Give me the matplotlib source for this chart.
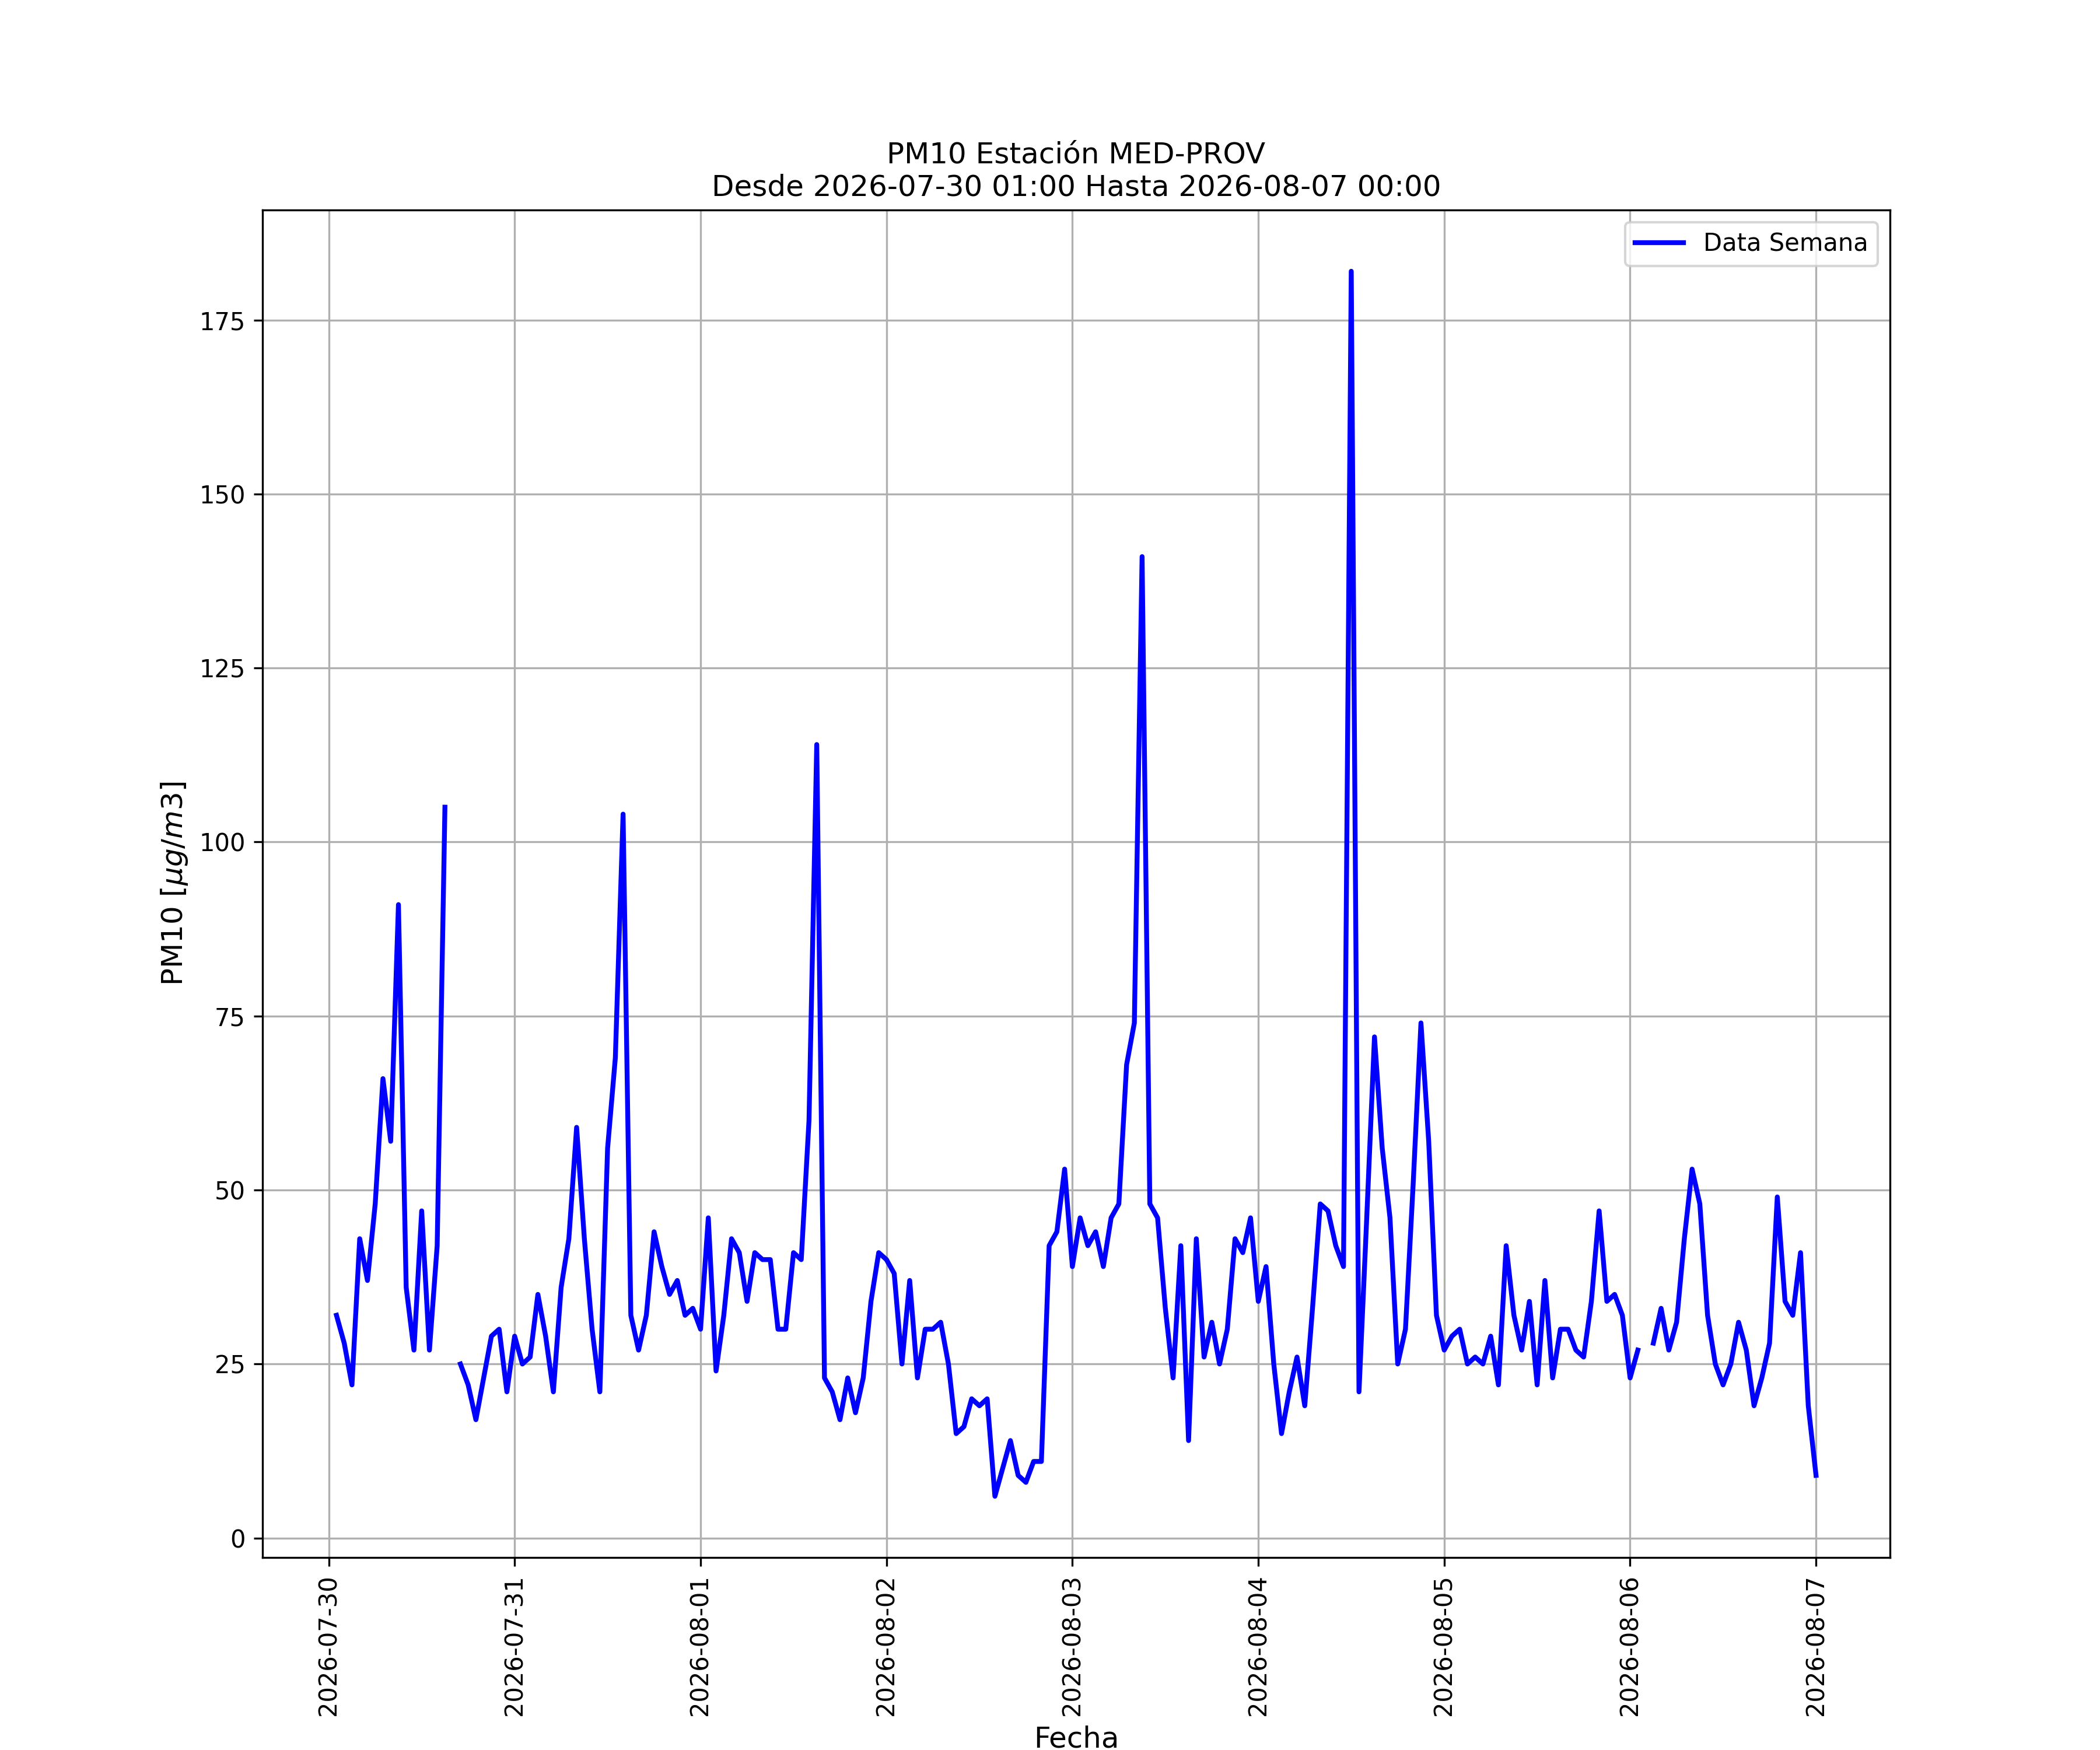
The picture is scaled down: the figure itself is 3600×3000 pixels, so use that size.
import numpy as np
import pandas as pd
import matplotlib
matplotlib.use("Agg")
import matplotlib.pyplot as plt
import matplotlib.dates as mdates

nan = np.nan

# hourly PM10, 2026-07-30 01:00 .. 2026-08-07 00:00
day_0730 = [32, 28, 22, 43, 37, 48, 66, 57, 91, 36, 27, 47, 27, 42, 105, nan,
            25, 22, 17, 23, 29, 30, 21]
day_0731 = [29, 25, 26, 35, 29, 21, 36, 43, 59, 43, 30, 21, 56, 69, 104, 32,
            27, 32, 44, 39, 35, 37, 32, 33]
day_0801 = [30, 46, 24, 32, 43, 41, 34, 41, 40, 40, 30, 30, 41, 40, 60, 114,
            23, 21, 17, 23, 18, 23, 34, 41]
day_0802 = [40, 38, 25, 37, 23, 30, 30, 31, 25, 15, 16, 20, 19, 20, 6, 10,
            14, 9, 8, 11, 11, 42, 44, 53]
day_0803 = [39, 46, 42, 44, 39, 46, 48, 68, 74, 141, 48, 46, 33, 23, 42, 14,
            43, 26, 31, 25, 30, 43, 41, 46]
day_0804 = [34, 39, 25, 15, 21, 26, 19, 33, 48, 47, 42, 39, 182, 21, 46, 72,
            56, 46, 25, 30, 51, 74, 57, 32]
day_0805 = [27, 29, 30, 25, 26, 25, 29, 22, 42, 32, 27, 34, 22, 37, 23, 30,
            30, 27, 26, 34, 47, 34, 35, 32]
day_0806 = [23, 27, nan, 28, 33, 27, 31, 43, 53, 48, 32, 25, 22, 25, 31, 27,
            19, 23, 28, 49, 34, 32, 41, 19]
day_0807 = [9]

pm10 = (day_0730 + day_0731 + day_0801 + day_0802 + day_0803 + day_0804
        + day_0805 + day_0806 + day_0807)
fechas = pd.date_range("2026-07-30 01:00", periods=len(pm10), freq="h")

inicio = "2026-07-30 01:00"
fin = "2026-08-07 00:00"
estacion = "MED-PROV"

fig = plt.figure(figsize=(12, 10))
fig.subplots_adjust(left=0.125, right=0.9, bottom=0.11, top=0.88)
ax = fig.add_subplot(111)
ax.plot(fechas, pm10, color="blue", linewidth=2, label="Data Semana")
ax.set_title("PM10 Estación " + estacion + "\nDesde " + inicio + " Hasta " + fin,
             fontsize=12)
ax.set_xlabel("Fecha", fontsize=12)
ax.set_ylabel(r"PM10 [$\mu g/m3$]", fontsize=12)
ax.xaxis.set_major_locator(mdates.DayLocator())
ax.xaxis.set_major_formatter(mdates.DateFormatter("%Y-%m-%d"))
plt.setp(ax.get_xticklabels(), rotation=90)
ax.grid(True)
ax.legend(loc="upper right")
fig.savefig("out.png", dpi=300)
